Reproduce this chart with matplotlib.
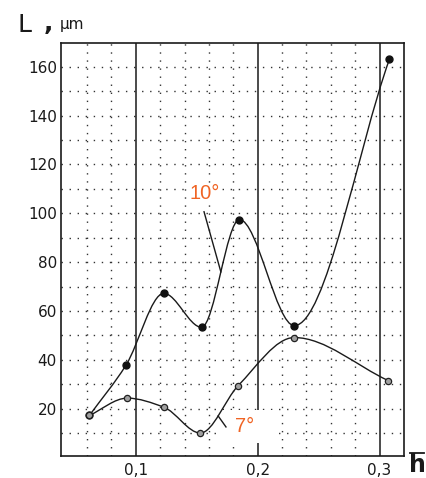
import numpy as np
import matplotlib
matplotlib.use("Agg")
import matplotlib.pyplot as plt
from matplotlib.path import Path
from matplotlib.patches import PathPatch, Rectangle
from matplotlib.lines import Line2D

# =========================================================
# DATA
# =========================================================
h_10 = [0.062, 0.092, 0.123, 0.154, 0.185, 0.230, 0.308]
L_10 = [17.2, 37.8, 67.2, 53.3, 97.4, 54.0, 163.0]

h_7 = [0.062, 0.093, 0.123, 0.153, 0.184, 0.230, 0.307]
L_7 = [17.2, 24.3, 20.6, 10.0, 29.4, 49.1, 31.5]

x_ticks = [0.1, 0.2, 0.3]
x_ticklabels = ["0,1", "0,2", "0,3"]
y_ticks = [20, 40, 60, 80, 100, 120, 140, 160]

ORANGE = "#f06424"
INK = "#1a1a1a"


def hermite_slopes(x, y):
    # monotone (pchip style) tangents, secant at the ends
    h = np.diff(x)
    d = np.diff(y) / h
    m = np.empty_like(x)
    m[0], m[-1] = d[0], d[-1]
    for k in range(1, len(x) - 1):
        if d[k - 1] * d[k] <= 0:
            m[k] = 0.0
        else:
            w1 = 2 * h[k] + h[k - 1]
            w2 = h[k] + 2 * h[k - 1]
            m[k] = (w1 + w2) / (w1 / d[k - 1] + w2 / d[k])
    return m


def smooth_path(xs, ys):
    x = np.asarray(xs, float)
    y = np.asarray(ys, float)
    m = hermite_slopes(x, y)
    h = np.diff(x)
    verts = [(x[0], y[0])]
    codes = [Path.MOVETO]
    for k in range(len(h)):
        verts += [(x[k] + h[k] / 3, y[k] + m[k] * h[k] / 3),
                  (x[k + 1] - h[k] / 3, y[k + 1] - m[k + 1] * h[k] / 3),
                  (x[k + 1], y[k + 1])]
        codes += [Path.CURVE4] * 3
    return Path(verts, codes)


def curve_at(xs, ys, xq):
    x = np.asarray(xs, float)
    y = np.asarray(ys, float)
    m = hermite_slopes(x, y)
    k = np.searchsorted(x, xq) - 1
    hk = x[k + 1] - x[k]
    t = (xq - x[k]) / hk
    return ((2 * t**3 - 3 * t**2 + 1) * y[k] + (t**3 - 2 * t**2 + t) * hk * m[k]
            + (-2 * t**3 + 3 * t**2) * y[k + 1] + (t**3 - t**2) * hk * m[k + 1])


# =========================================================
# FIGURE
# =========================================================
W, H = 427, 478
fig = plt.figure(figsize=(W / 100, H / 100), dpi=100)
ax = fig.add_axes([61 / W, 1 - 456 / H, (404 - 61) / W, (456 - 43) / H])
ax.set_xlim(0.0387, 0.320)
ax.set_ylim(0.6, 169.7)

# dotted grid
for yv in range(10, 170, 10):
    ax.axhline(yv, color="#333333", lw=1.0, dashes=(1, 4.8), zorder=1)
for xv in np.arange(0.06, 0.31, 0.02):
    if abs(xv * 10 - round(xv * 10)) > 1e-6:
        ax.axvline(xv, color="#333333", lw=1.0, dashes=(1, 4.8), zorder=1)

# solid lines at 0.1, 0.2, 0.3
for xv in x_ticks:
    ax.axvline(xv, color=INK, lw=1.1, zorder=1.5)

# blank patch behind the 7 deg label
ax.add_patch(Rectangle((0.171, 6.0), 0.044, 13.5, facecolor="white",
                       edgecolor="none", zorder=2))

# curves
ax.add_patch(PathPatch(smooth_path(h_10, L_10), facecolor="none",
                       edgecolor=INK, lw=1.0, zorder=3))
ax.add_patch(PathPatch(smooth_path(h_7, L_7), facecolor="none",
                       edgecolor=INK, lw=1.0, zorder=3))

ax.plot(h_10, L_10, "o", ms=5, color="#111111", zorder=4)
ax.plot(h_7, L_7, "o", ms=4.5, mfc="#a0a0a0", mec="#222222", mew=0.9, zorder=4)

# labels and leaders
x_lead = 0.1698
ax.plot([0.156, x_lead], [100.6, curve_at(h_10, L_10, x_lead)],
        color=INK, lw=1.0, zorder=3)
ax.text(0.1565, 108, "10°", color=ORANGE, fontsize=14.5, ha="center",
        va="center", family="Liberation Sans", zorder=5,
        bbox=dict(facecolor="white", edgecolor="none", pad=1))

x_lead7 = 0.1676
ax.plot([x_lead7, 0.174], [curve_at(h_7, L_7, x_lead7), 12.5],
        color=INK, lw=1.0, zorder=3)
ax.text(0.1889, 12.5, "7°", color=ORANGE, fontsize=14.5, ha="center",
        va="center", family="Liberation Sans", zorder=5)

# axes styling
for s in ax.spines.values():
    s.set_color(INK)
    s.set_linewidth(1.2)
ax.set_xticks(x_ticks)
ax.set_xticklabels(x_ticklabels)
ax.set_yticks(y_ticks)
ax.tick_params(axis="both", length=0, labelsize=11, labelcolor=INK)
ax.tick_params(axis="x", pad=5)
ax.tick_params(axis="y", pad=3)

# axis titles
fig.text(17 / W, 1 - 32 / H, "L", fontsize=18, color=INK, va="baseline")
fig.text(44 / W, 1 - 30 / H, ",", fontsize=18, color=INK, va="baseline",
         fontweight="bold")
fig.text(60 / W, 1 - 29 / H, "μm", fontsize=11, color=INK, va="baseline")

fig.text(417 / W, 1 - 477 / H, "h", fontsize=17, fontweight="bold",
         color=INK, ha="center", va="bottom")
fig.add_artist(Line2D([410 / W, 424 / W], [1 - 453 / H, 1 - 453 / H],
                      transform=fig.transFigure, color=INK, lw=1.3))

plt.savefig("out.png", dpi=100)
plt.close()
